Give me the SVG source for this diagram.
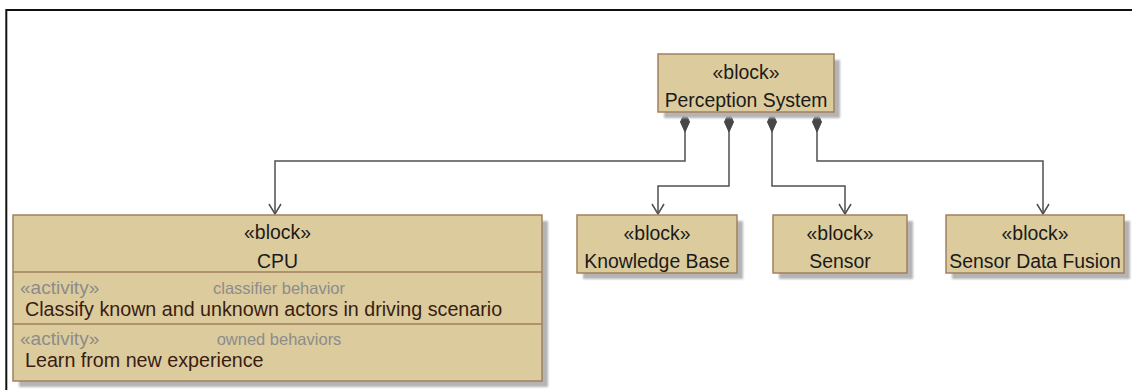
<svg xmlns="http://www.w3.org/2000/svg" width="1132" height="390" viewBox="0 0 1132 390">
  <style>
    .shadow { fill: #b4b4b4; }
    .block { fill: #dccb9c; stroke: #a2805f; stroke-width: 1.5; }
    .div { stroke: #a2805f; stroke-width: 1.5; }
    .t { font-family: "Liberation Sans", Arial, sans-serif; font-size: 19.4px; fill: #1a1a1a; text-anchor: middle; }
    .op { font-family: "Liberation Sans", Arial, sans-serif; font-size: 19.7px; fill: #3a1c12; }
    .st { font-family: "Liberation Sans", Arial, sans-serif; font-size: 19px; fill: #8c8c8c; }
    .lbl { font-family: "Liberation Sans", Arial, sans-serif; font-size: 16.5px; fill: #8c8c8c; text-anchor: middle; }
    .conn { fill: none; stroke: #505050; stroke-width: 1.5; }
    .comp { fill: #474747; stroke: #474747; stroke-width: 1; }
  </style>
  <defs>
    <filter id="soft" x="-5%" y="-5%" width="110%" height="110%">
      <feGaussianBlur stdDeviation="1"/>
    </filter>
    <marker id="open" markerWidth="14" markerHeight="14" refX="11" refY="7" orient="auto" markerUnits="userSpaceOnUse">
      <path d="M1,1 L11,7 L1,13" fill="none" stroke="#505050" stroke-width="1.5"/>
    </marker>
    <!-- composite-aggregation diamond, tip at origin, pointing up -->
    <path id="dia" class="comp" d="M0,0 L4.5,10 L0,20 L-4.5,10 Z"/>
  </defs>

  <rect width="1132" height="390" fill="#ffffff"/>

  <!-- diagram frame -->
  <path d="M6.3,390 L6.3,10 L1132,10" fill="none" stroke="#111111" stroke-width="2"/>

  <!-- composition connectors -->
  <g id="connectors">
    <path class="conn" d="M685,130 L685,161 L275,161 L275,214" marker-end="url(#open)"/>
    <path class="conn" d="M729,130 L729,186 L658,186 L658,214" marker-end="url(#open)"/>
    <path class="conn" d="M772,130 L772,186 L845,186 L845,214" marker-end="url(#open)"/>
    <path class="conn" d="M817,130 L817,161 L1043,161 L1043,214" marker-end="url(#open)"/>
    <use href="#dia" x="685" y="112"/>
    <use href="#dia" x="729" y="112"/>
    <use href="#dia" x="772" y="112"/>
    <use href="#dia" x="817" y="112"/>
  </g>

  <g id="perception-system">
    <rect class="shadow" x="664" y="60" width="176" height="58" filter="url(#soft)"/>
    <rect class="block" x="658" y="54" width="176" height="58"/>
    <text class="t" x="746" y="79">«block»</text>
    <text class="t" x="746" y="107">Perception System</text>
  </g>

  <g id="cpu">
    <rect class="shadow" x="19" y="221" width="529" height="166" filter="url(#soft)"/>
    <rect class="block" x="13" y="215" width="529" height="166"/>
    <text class="t" x="277.5" y="239">«block»</text>
    <text class="t" x="277.5" y="268">CPU</text>
    <line class="div" x1="13" y1="272" x2="542" y2="272"/>
    <text class="st" x="20" y="293.5">«activity»</text>
    <text class="lbl" x="279" y="294">classifier behavior</text>
    <text class="op" x="25" y="316">Classify known and unknown actors in driving scenario</text>
    <line class="div" x1="13" y1="324" x2="542" y2="324"/>
    <text class="st" x="20" y="345">«activity»</text>
    <text class="lbl" x="279" y="345">owned behaviors</text>
    <text class="op" x="25" y="367">Learn from new experience</text>
  </g>

  <g id="knowledge-base">
    <rect class="shadow" x="583" y="221" width="160" height="58" filter="url(#soft)"/>
    <rect class="block" x="577" y="215" width="160" height="58"/>
    <text class="t" x="657" y="240">«block»</text>
    <text class="t" x="657" y="268">Knowledge Base</text>
  </g>

  <g id="sensor">
    <rect class="shadow" x="779" y="221" width="134" height="58" filter="url(#soft)"/>
    <rect class="block" x="773" y="215" width="134" height="58"/>
    <text class="t" x="840" y="240">«block»</text>
    <text class="t" x="840" y="268">Sensor</text>
  </g>

  <g id="sensor-data-fusion">
    <rect class="shadow" x="952" y="221" width="178" height="58" filter="url(#soft)"/>
    <rect class="block" x="946" y="215" width="178" height="58"/>
    <text class="t" x="1035" y="240">«block»</text>
    <text class="t" x="1035" y="268">Sensor Data Fusion</text>
  </g>
</svg>
